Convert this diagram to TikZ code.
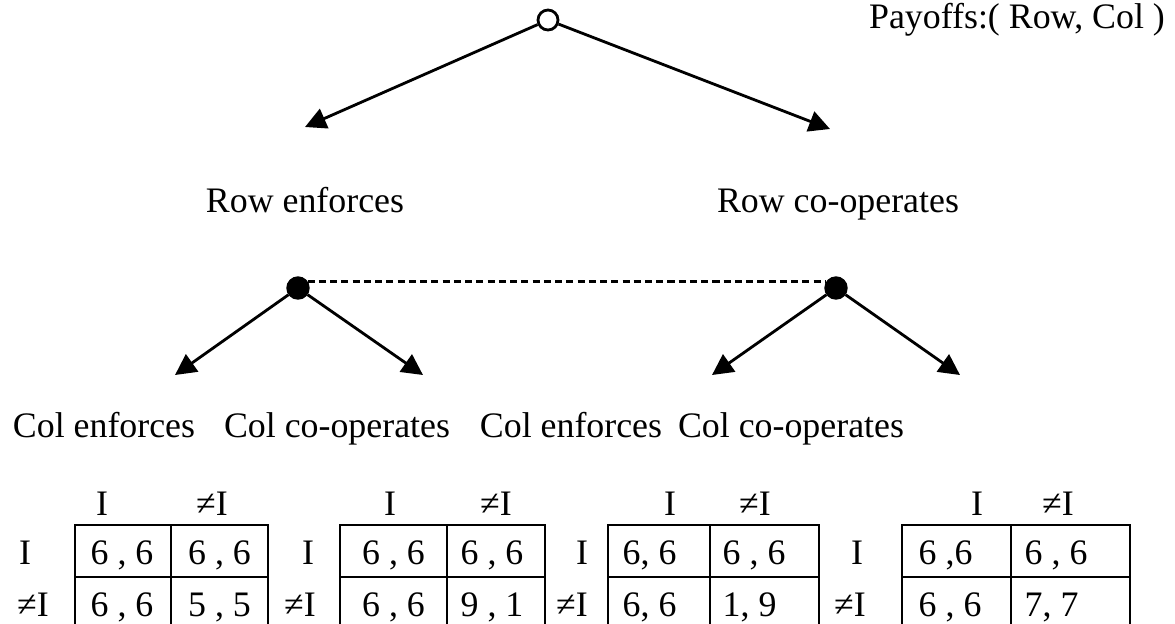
\documentclass[tikz,border=0pt]{standalone}
\usepackage{fontspec}
\setmainfont{Liberation Serif}
\usetikzlibrary{arrows.meta}
\usetikzlibrary{positioning}
\tikzstyle{opennode}=[circle,draw,thick,fill=white,minimum size=0.2cm,inner sep=0pt]
\tikzstyle{infonode}=[circle,draw,fill=black,minimum size=0.22cm,inner sep=0pt]
\tikzstyle{moveedge} = [draw,thick,-{Triangle[length=0.21cm,width=0.21cm]}]
\tikzstyle{infoset} = [draw,thick,dash pattern=on 2pt off 1.2pt]
\tikzstyle{move} = [font=\fontsize{10.2}{12}\selectfont,anchor=base,inner sep=0pt]
\tikzstyle{payoff} = [font=\fontsize{10.2}{12}\selectfont,inner sep=0pt]

\begin{document}
\begin{tikzpicture}
\useasboundingbox (0,0) rectangle (11.75,-6.23);

    % Row moves first
    \node[opennode] (root) at (5.48,-0.20) {};
    \coordinate (rowE) at (3.05,-1.27);
    \coordinate (rowC) at (8.30,-1.29);
    \path[moveedge] (root) -- (rowE);
    \path[moveedge] (root) -- (rowC);
    \node[move] (rowEtext) at (3.05,-2.12) {Row enforces};
    \node[move] (rowCtext) at (8.38,-2.12) {Row co-operates};
    \node[move] (payoffs) at (10.17,-0.28) {Payoffs:( Row, Col )};

    % Col does not know what Row did
    \node[infonode] (ldot) at (2.98,-2.88) {};
    \node[infonode] (rdot) at (8.36,-2.88) {};
    \path[infoset] (ldot.35) -- (rdot.145);

    \coordinate (colEE) at (1.75,-3.75);
    \coordinate (colEC) at (4.23,-3.75);
    \coordinate (colCE) at (7.12,-3.75);
    \coordinate (colCC) at (9.60,-3.75);
    \path[moveedge] (ldot) -- (colEE);
    \path[moveedge] (ldot) -- (colEC);
    \path[moveedge] (rdot) -- (colCE);
    \path[moveedge] (rdot) -- (colCC);

    \foreach \pos/\name/\label in {{(1.04,-4.37)/colEEtext/Col enforces}, {(3.37,-4.37)/colECtext/Col co-operates}, {(5.71,-4.37)/colCEtext/Col enforces}, {(7.91,-4.37)/colCCtext/Col co-operates}}
        \node[move] (\name) at \pos {\label};

    % The four payoff tables
    \foreach \l/\m/\r in {0.75/1.71/2.68, 3.40/4.47/5.45, 6.08/7.10/8.19, 9.02/10.11/11.30}
    {
        \draw[thick] (\l,-5.25) rectangle (\r,-6.29);
        \draw[thick] (\l,-5.77) -- (\r,-5.77);
        \draw[thick] (\m,-5.25) -- (\m,-6.29);
    }

    % headers and row labels
    \foreach \pos/\name/\label in {{(1.02,-5.15)/h1a/I}, {(2.12,-5.15)/h1b/≠I}, {(3.90,-5.15)/h2a/I}, {(4.96,-5.15)/h2b/≠I}, {(6.70,-5.15)/h3a/I}, {(7.55,-5.15)/h3b/≠I}, {(9.77,-5.15)/h4a/I}, {(10.58,-5.15)/h4b/≠I},
        {(0.25,-5.64)/r1a/I}, {(0.33,-6.16)/r1b/≠I}, {(3.08,-5.64)/r2a/I}, {(3.00,-6.16)/r2b/≠I}, {(5.82,-5.64)/r3a/I}, {(5.72,-6.16)/r3b/≠I}, {(8.57,-5.64)/r4a/I}, {(8.50,-6.16)/r4b/≠I}}
        \node[payoff,anchor=base] (\name) at \pos {\label};

    % cells of the first two tables are centred
    \foreach \pos/\name/\label in {{(1.22,-5.64)/c1aa/6 , 6}, {(2.195,-5.64)/c1ab/6 , 6}, {(1.22,-6.16)/c1ba/6 , 6}, {(2.195,-6.16)/c1bb/5 , 5},
        {(3.935,-5.64)/c2aa/6 , 6}, {(4.92,-5.64)/c2ab/6 , 6}, {(3.935,-6.16)/c2ba/6 , 6}, {(4.92,-6.16)/c2bb/9 , 1}}
        \node[payoff,anchor=base] (\name) at \pos {\label};

    % the last two are flush left
    \foreach \pos/\name/\label in {{(6.22,-5.64)/c3aa/6, 6}, {(7.22,-5.64)/c3ab/6 , 6}, {(6.22,-6.16)/c3ba/6, 6}, {(7.22,-6.16)/c3bb/1, 9},
        {(9.18,-5.64)/c4aa/6 ,6}, {(10.24,-5.64)/c4ab/6 , 6}, {(9.18,-6.16)/c4ba/6 , 6}, {(10.24,-6.16)/c4bb/7, 7}}
        \node[payoff,anchor=base west] (\name) at \pos {\label};

\end{tikzpicture}
\end{document}
